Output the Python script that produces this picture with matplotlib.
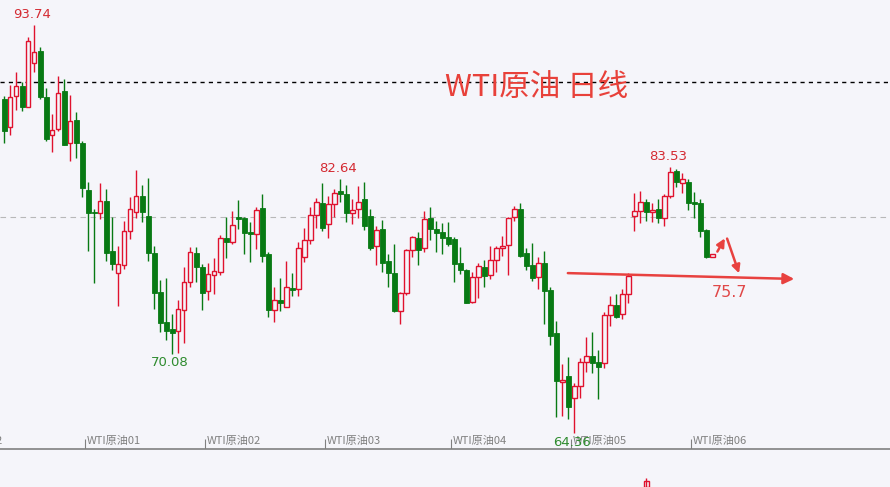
import matplotlib
matplotlib.use("Agg")
import matplotlib.pyplot as plt
import numpy as np

# WTI daily candles (open, high, low, close)
opens = [88.41, 86.37, 88.63, 89.35, 87.86, 90.98, 91.87, 88.53, 85.80, 86.23,
         88.99, 85.22, 86.90, 85.27, 81.86, 80.28, 80.18, 81.07, 77.47, 75.86,
         76.46, 78.93, 80.30, 81.41, 79.99, 77.30, 74.49, 72.36, 71.85, 71.73,
         73.22, 75.21, 77.32, 76.29, 74.59, 75.74, 75.93, 78.43, 78.14, 79.94,
         79.87, 78.86, 78.69, 80.54, 77.25, 73.22, 73.94, 73.41, 74.83, 74.71,
         77.01, 78.26, 80.04, 80.95, 79.41, 80.85, 81.79, 81.57, 80.23, 80.47,
         81.19, 79.99, 77.85, 79.03, 76.75, 75.86, 73.17, 74.47, 77.54, 78.38,
         77.66, 79.87, 79.03, 78.84, 78.50, 78.33, 76.58, 76.10, 73.82, 75.57,
         76.34, 75.74, 76.82, 77.71, 77.90, 79.89, 80.49, 77.30, 76.46, 75.57,
         76.58, 74.66, 71.59, 68.06, 68.47, 66.86, 67.75, 69.45, 69.91, 69.50,
         69.38, 72.86, 73.58, 72.91, 74.37, 80.01, 80.37, 80.97, 80.30, 80.49,
         79.82, 81.43, 83.23, 82.34, 82.41, 80.97, 80.95, 78.98, 77.06]
highs = [88.63, 89.42, 90.38, 89.66, 92.90, 93.74, 92.13, 89.18, 87.33, 90.07,
         89.83, 88.70, 87.48, 85.41, 82.41, 80.51, 82.39, 81.91, 79.89, 77.83,
         79.63, 81.33, 83.30, 82.22, 82.75, 77.81, 75.38, 75.52, 72.93, 73.94,
         76.34, 77.73, 77.73, 76.53, 76.63, 76.99, 78.62, 79.94, 80.37, 81.14,
         79.94, 79.58, 80.66, 81.57, 77.42, 74.90, 75.50, 76.77, 75.86, 78.14,
         79.10, 80.66, 81.26, 82.34, 81.43, 81.91, 82.64, 82.22, 81.19, 82.15,
         82.41, 80.49, 79.27, 79.70, 77.25, 77.97, 74.54, 77.61, 78.57, 78.84,
         80.35, 80.66, 79.63, 79.46, 79.53, 78.50, 77.73, 76.17, 75.93, 76.58,
         76.82, 77.83, 77.83, 78.55, 79.94, 80.71, 80.90, 77.66, 78.02, 77.06,
         77.49, 74.85, 72.45, 69.33, 69.81, 67.94, 69.74, 71.30, 71.66, 70.34,
         73.05, 74.23, 74.37, 74.71, 75.86, 81.62, 81.81, 81.19, 80.95, 81.19,
         81.55, 83.53, 83.37, 83.06, 82.65, 81.69, 81.19, 79.03, 77.25]
lows = [85.27, 85.82, 87.62, 87.55, 87.81, 90.38, 88.43, 85.39, 84.62, 86.13,
        85.10, 83.95, 84.14, 81.33, 77.49, 75.19, 79.77, 76.77, 76.10, 73.51,
        76.15, 78.35, 79.87, 79.56, 76.73, 73.29, 71.66, 71.06, 70.08, 70.15,
        70.82, 74.85, 75.21, 73.22, 73.94, 74.37, 75.74, 76.94, 77.95, 79.03,
        77.23, 76.70, 77.61, 76.70, 72.69, 72.38, 73.17, 73.41, 74.25, 74.25,
        76.70, 77.95, 79.10, 78.91, 78.38, 79.89, 81.02, 79.58, 79.39, 79.87,
        78.98, 77.54, 76.46, 75.98, 74.90, 73.05, 72.19, 74.30, 77.01, 76.46,
        77.42, 78.26, 77.42, 77.23, 77.83, 75.26, 75.81, 73.75, 73.75, 74.06,
        74.90, 75.43, 75.98, 77.11, 75.74, 79.65, 77.01, 76.10, 75.33, 74.71,
        72.21, 70.70, 65.54, 65.59, 65.35, 64.36, 66.86, 68.78, 68.71, 66.79,
        69.07, 72.07, 72.62, 72.55, 73.70, 78.93, 79.51, 79.63, 79.58, 79.51,
        79.29, 81.26, 82.05, 81.67, 80.42, 79.87, 78.45, 76.94, 77.01]
closes = [86.13, 88.53, 89.33, 87.86, 92.57, 91.82, 88.58, 85.53, 86.18, 88.82,
          85.10, 86.81, 85.27, 82.03, 80.23, 80.18, 81.05, 77.35, 76.51, 76.51,
          78.91, 80.47, 81.41, 80.30, 77.30, 74.42, 72.31, 71.73, 71.54, 73.27,
          75.21, 77.37, 76.29, 74.42, 75.79, 76.03, 78.38, 78.14, 79.34, 79.75,
          78.79, 78.69, 80.42, 77.13, 73.22, 73.94, 73.70, 74.90, 74.66, 77.66,
          78.26, 80.06, 80.97, 79.10, 80.85, 81.62, 81.57, 80.23, 80.40, 81.02,
          79.29, 77.71, 78.98, 76.63, 75.91, 73.15, 74.42, 77.54, 78.45, 77.54,
          79.75, 79.07, 78.79, 78.43, 77.97, 76.51, 76.10, 73.75, 75.57, 76.41,
          75.67, 76.82, 77.66, 77.83, 79.87, 80.49, 77.11, 76.41, 75.50, 76.63,
          74.61, 71.37, 68.13, 68.18, 66.26, 67.75, 69.50, 69.91, 69.43, 69.14,
          72.86, 73.58, 72.74, 74.37, 75.67, 80.37, 81.02, 80.30, 80.42, 79.87,
          81.43, 83.18, 82.41, 82.63, 80.90, 80.83, 78.93, 77.06, 77.23]

month_pos = [-9.5, 13.5, 33.5, 53.5, 74.5, 94.5, 114.5]
month_labels = ["WTI原油12", "WTI原油01", "WTI原油02", "WTI原油03",
                "WTI原油04", "WTI原油05", "WTI原油06"]

high_marks = [5, 56, 111]
low_marks = [28, 95]
support = 75.7
dash_black = 89.6
dash_gray = 79.95

RED = "#E0122E"
GREEN = "#087A14"
BG = "#F5F5FA"

plt.rcParams["font.family"] = ["Noto Sans CJK SC", "DejaVu Sans"]

fig = plt.figure(figsize=(8.9, 4.87), dpi=100)
fig.patch.set_facecolor(BG)
ax = fig.add_axes([0, 38 / 487, 1, 449 / 487])
ax.set_facecolor(BG)

o = np.array(opens)
h = np.array(highs)
l = np.array(lows)
c = np.array(closes)
x = np.arange(len(o))
up = c >= o

ax.axhline(dash_black, color="black", lw=1, ls=(0, (3, 3)), zorder=1)
ax.axhline(dash_gray, color="#B8B8B8", lw=0.8, ls=(0, (5, 4)), zorder=1)

ax.vlines(x[up], l[up], h[up], color=RED, lw=1, zorder=2)
ax.vlines(x[~up], l[~up], h[~up], color=GREEN, lw=1, zorder=2)
bot = np.minimum(o, c)
hgt = np.maximum(np.abs(c - o), 0.06)
ax.bar(x[up], hgt[up], 0.72, bot[up], facecolor=BG, edgecolor=RED, lw=1, zorder=3)
ax.bar(x[~up], hgt[~up], 0.78, bot[~up], facecolor=GREEN, edgecolor=GREEN, lw=0.6, zorder=3)

for i in high_marks:
    ax.annotate(f"{h[i]:.2f}", (x[i] - 0.35, h[i]), xytext=(0, 3), textcoords="offset points",
                ha="center", va="bottom", color="#D42A32", fontsize=9.5, family="DejaVu Sans")
for i in low_marks:
    ax.annotate(f"{l[i]:.2f}", (x[i] - 0.35, l[i]), xytext=(0, -2), textcoords="offset points",
                ha="center", va="top", color="#2E8B2E", fontsize=9.5, family="DejaVu Sans", zorder=5)

# month ticks
ax.set_xlim(-0.72, 147.6)
ax.set_ylim(63.21, 95.54)
ax.set_xticks([])
ax.set_yticks([])
for s in ["top", "left", "right"]:
    ax.spines[s].set_visible(False)
ax.spines["bottom"].set_color("#808080")
ax.spines["bottom"].set_linewidth(1.2)
ax.vlines(month_pos, 63.21, 63.21 + 0.75, color="#808080", lw=0.8)
for p, t in zip(month_pos, month_labels):
    ax.text(p + 0.3, 63.21 + 0.58, t, ha="left", va="center", fontsize=8, color="#808080")

# title and drawn support
ax.text(0.500, 0.806, "WTI原油 日线", transform=ax.transAxes, ha="left", va="center",
        fontsize=22, color="#E8413A")
ax.annotate("", xy=(132.1, 75.45), xytext=(93.45, 75.88),
            arrowprops=dict(arrowstyle="-|>", color="#E8413F", lw=1.8, mutation_scale=16))
ax.annotate("", xy=(120.3, 78.55), xytext=(118.6, 77.25),
            arrowprops=dict(arrowstyle="-|>", color="#E8413F", lw=1.8, mutation_scale=12))
ax.annotate("", xy=(122.6, 75.67), xytext=(120.3, 78.55),
            arrowprops=dict(arrowstyle="-|>", color="#E8413F", lw=1.8, mutation_scale=12))
ax.text(120.9, 75.7 - 1.2, f"{support}", ha="center", va="center", fontsize=11.5,
        color="#E04848", family="DejaVu Sans")

# lower panel (only the top edge of it is visible)
ax2 = fig.add_axes([0, 0, 1, 37 / 487])
ax2.set_facecolor(BG)
ax2.set_xlim(-0.72, 147.6)
ax2.set_ylim(0, 1)
ax2.axis("off")
ax2.vlines([107], 0.0, 0.25, color=RED, lw=1)
ax2.bar([107], [0.16], 0.72, 0, facecolor=BG, edgecolor=RED, lw=1)

fig.savefig("out.png", dpi=100, facecolor=BG)
